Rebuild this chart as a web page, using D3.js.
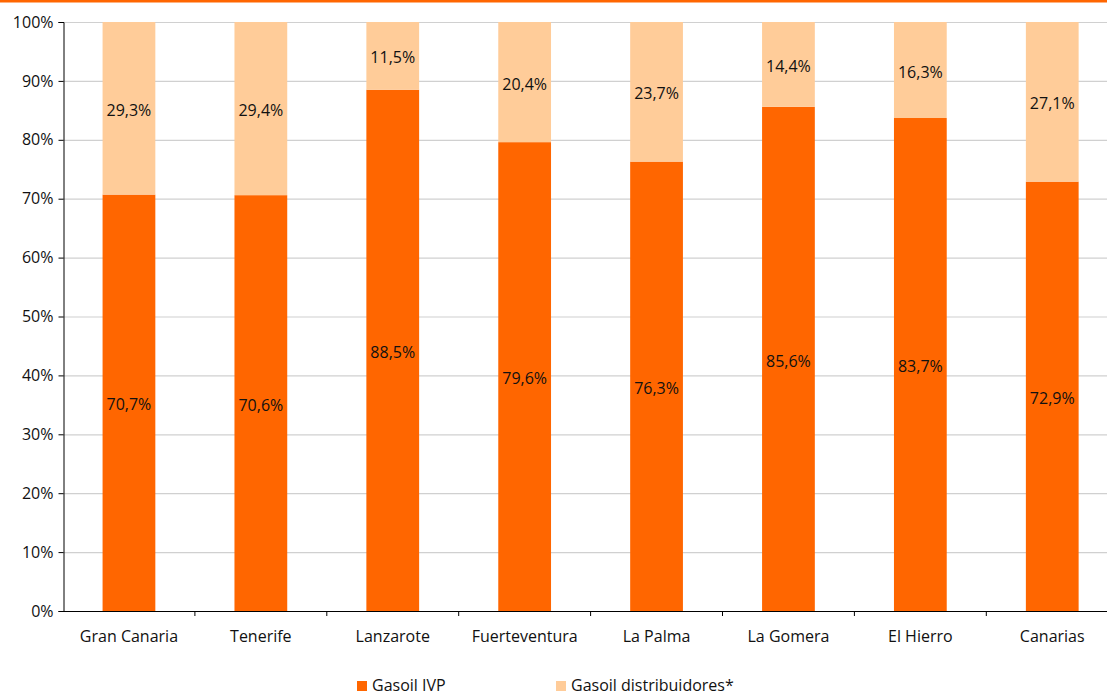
<!DOCTYPE html>
<html><head><meta charset="utf-8">
<script src="https://cdn.jsdelivr.net/npm/d3@7"></script>
<style>body{margin:0;background:#fff}svg{display:block}</style>
</head><body>
<svg id="c" width="1107" height="696"></svg>
<script>
const categories = ["Gran Canaria","Tenerife","Lanzarote","Fuerteventura","La Palma","La Gomera","El Hierro","Canarias"];
const gasoilIVP = [70.7,70.6,88.5,79.6,76.3,85.6,83.7,72.9];
const gasoilDistribuidores = [29.3,29.4,11.5,20.4,23.7,14.4,16.3,27.1];
const seriesNames = ["Gasoil IVP","Gasoil distribuidores*"];
const yTicks = [0,10,20,30,40,50,60,70,80,90,100];
const colors = ["#FF6600","#FFCC99"];

(function(){
const svg = d3.select("#c");
const font = "'Open Sans', sans-serif";
const fs = 16;
const mLeft = 63, mTop = 22, mBottom = 611;
const step = 131.9;
const x = d3.scaleBand().domain(categories).range([mLeft, mLeft + step*categories.length]).paddingInner(0.6).paddingOuter(0.3);
const y = d3.scaleLinear().domain([0,100]).range([mBottom, mTop]);

// top orange rule
svg.append("rect").attr("x",0).attr("y",0).attr("width",1107).attr("height",2.5).attr("fill","#FF6600");

// gridlines
svg.append("g").selectAll("line").data(yTicks.filter(d=>d>0)).join("line")
  .attr("x1",mLeft).attr("x2",1107).attr("y1",d=>y(d)+0.5).attr("y2",d=>y(d)+0.5)
  .attr("stroke","#d0d0d0").attr("stroke-width",1.2);

const rows = categories.map((c,i)=>({cat:c, ivp:gasoilIVP[i], dist:gasoilDistribuidores[i]}));
const stack = d3.stack().keys(["ivp","dist"])(rows);

const g = svg.append("g");
stack.forEach((layer,li)=>{
  g.selectAll(null).data(layer).join("rect")
    .attr("x",d=>x(d.data.cat)).attr("width",x.bandwidth())
    .attr("y",d=>y(d[1])).attr("height",d=>y(d[0])-y(d[1]))
    .attr("fill",colors[li]);
  g.selectAll(null).data(layer).join("text")
    .attr("x",d=>x(d.data.cat)+x.bandwidth()/2)
    .attr("y",d=>y((d[0]+d[1])/2)+2)
    .attr("dy","0.35em").attr("text-anchor","middle")
    .attr("font-family",font).attr("font-size",fs).attr("fill","#111")
    .text(d=>d3.format(".1f")(d[1]-d[0]).replace(".",",")+"%");
});

// y axis
const ya = svg.append("g").attr("transform",`translate(${mLeft+0.5},0)`)
  .call(d3.axisLeft(y).tickValues(yTicks).tickSize(5).tickFormat(d=>d+"%"));
ya.select(".domain").attr("stroke","#000");
ya.selectAll(".tick line").attr("stroke","#000");
ya.selectAll("text").attr("font-family",font).attr("font-size",fs).attr("fill","#111").attr("x",-10);

// x axis
svg.append("line").attr("x1",mLeft).attr("x2",1107).attr("y1",mBottom+0.5).attr("y2",mBottom+0.5).attr("stroke","#000");
const bounds = d3.range(1,categories.length).map(i=>x.range()[0]+i*step);
svg.append("g").selectAll("line").data(bounds).join("line")
  .attr("x1",d=>d).attr("x2",d=>d).attr("y1",mBottom).attr("y2",mBottom+5).attr("stroke","#000");
svg.append("g").selectAll("text").data(categories).join("text")
  .attr("x",d=>x(d)+x.bandwidth()/2).attr("y",642).attr("text-anchor","middle")
  .attr("font-family",font).attr("font-size",fs).attr("fill","#111").text(d=>d);

// legend
const legX = [357,556];
seriesNames.forEach((n,i)=>{
  svg.append("rect").attr("x",legX[i]).attr("y",681).attr("width",10).attr("height",10).attr("fill",colors[i]);
  svg.append("text").attr("x",legX[i]+15).attr("y",691).attr("font-family",font).attr("font-size",fs).attr("fill","#111").text(n);
});
})();
</script>
</body></html>
